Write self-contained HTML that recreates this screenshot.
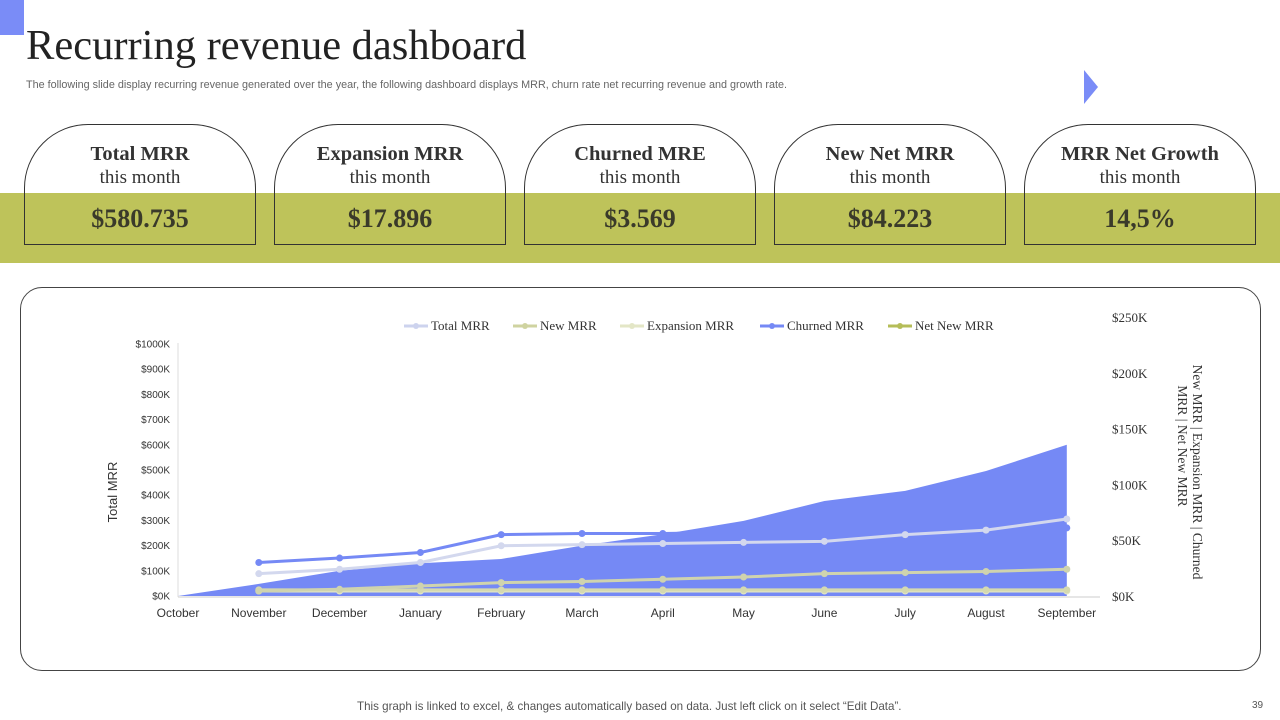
<!DOCTYPE html>
<html><head><meta charset="utf-8"><style>
body{margin:0;width:1280px;height:720px;position:relative;background:#fff;font-family:"Liberation Sans",sans-serif;overflow:hidden}
.abs{position:absolute}
.card{position:absolute;top:124px;width:230px;height:119px;border:1px solid #333;border-radius:64px 64px 0 0;text-align:center;font-family:"Liberation Serif",serif;color:#333}
.card .t{font-weight:bold;font-size:20.5px;margin-top:17px;line-height:24px}
.card .s{font-size:19px;line-height:24px}
.card .v{font-weight:bold;font-size:26px;margin-top:14px;color:#3a3a2a}
</style></head><body>
<div class="abs" style="left:0;top:0;width:24px;height:35px;background:#7a8cf7"></div>
<div class="abs" style="left:26px;top:21px;font-family:'Liberation Serif',serif;font-size:42.5px;color:#222">Recurring revenue dashboard</div>
<div class="abs" style="left:26px;top:79px;font-size:10.8px;color:#666;white-space:nowrap">The following slide display recurring revenue generated over the year, the following dashboard displays MRR, churn rate  net recurring revenue and growth rate.</div>
<svg class="abs" style="left:1082px;top:70px" width="18" height="34"><path d="M2 0 L16 17 L2 34 Z" fill="#7a8cf7"/></svg>
<div class="abs" style="left:0;top:193px;width:1280px;height:70px;background:#bec35a"></div>
<div class="card" style="left:24px"><div class="t">Total MRR</div><div class="s">this month</div><div class="v">$580.735</div></div>
<div class="card" style="left:274px"><div class="t">Expansion  MRR</div><div class="s">this month</div><div class="v">$17.896</div></div>
<div class="card" style="left:524px"><div class="t">Churned  MRE</div><div class="s">this month</div><div class="v">$3.569</div></div>
<div class="card" style="left:774px"><div class="t">New Net MRR</div><div class="s">this month</div><div class="v">$84.223</div></div>
<div class="card" style="left:1024px"><div class="t">MRR Net Growth</div><div class="s">this month</div><div class="v">14,5%</div></div>
<div class="abs" style="left:20px;top:287px;width:1239px;height:382px;border:1px solid #444;border-radius:22px"></div>
<svg id="chart" class="abs" style="left:0;top:0" width="1280" height="720"></svg>
<div class="abs" style="left:357px;top:700px;font-size:11.6px;color:#555;white-space:nowrap">This graph is linked to excel, &amp; changes automatically based on data. Just left click on it select “Edit Data”.</div>
<div class="abs" style="left:1252px;top:700px;font-size:10px;color:#555">39</div>
<script>
const months=["October","November","December","January","February","March","April","May","June","July","August","September"];
const totalArea=[0,48,100,130,147,200,245,298,377,417,496,600];
const totalMRR=[null,20,24,30,45,46,47,48,49,55,59,69];
const newMRR=[null,4.5,6,9,12,13,15,17,20,21,22,24];
const expansionMRR=[null,4.5,4.5,4.5,4.5,4.5,4.5,4.5,4.5,4.5,4.5,4.5];
const churnedMRR=[null,30,34,39,55,56,56,57,58,59,60,61];
const netNewMRR=[null,5.5,5.5,5.5,5.5,5.5,5.5,5.5,5.5,5.5,5.5,5.5];
const leftTicks=[0,100,200,300,400,500,600,700,800,900,1000];
const rightTicks=[0,50,100,150,200,250];
const NS="http://www.w3.org/2000/svg";
const svg=document.getElementById('chart');
const x=i=>178+i*80.8;
const yL=v=>596-v*0.252;
const yR=v=>596-v*1.116;
function mk(t,a){const e=document.createElementNS(NS,t);for(const k in a)e.setAttribute(k,a[k]);svg.appendChild(e);return e;}
let ax=mk('line',{x1:178,y1:343,x2:178,y2:597,stroke:'#ddd'});

let bx=mk('line',{x1:178,y1:597,x2:1100,y2:597,stroke:'#ccc'});

leftTicks.forEach(v=>{const t=mk('text',{x:170,y:yL(v)+3.5,'text-anchor':'end','font-size':'10','fill':'#333'});t.textContent='$'+v+'K';
});
rightTicks.forEach(v=>{const t=mk('text',{x:1112,y:yR(v)+5,'font-size':'13','fill':'#333','font-family':'Liberation Serif'});t.textContent='$'+v+'K';
});
months.forEach((m,i)=>{const t=mk('text',{x:x(i),y:617,'text-anchor':'middle','font-size':'12','fill':'#333'});t.textContent=m;
});
let yt=mk('text',{transform:'translate(117,492) rotate(-90)','text-anchor':'middle','font-size':'13','fill':'#333'});yt.textContent='Total MRR';

let r1=mk('text',{transform:'translate(1193,472) rotate(90)','text-anchor':'middle','font-size':'13.5','fill':'#333','font-family':'Liberation Serif'});r1.textContent='New MRR | Expansion MRR | Churned';

let r2=mk('text',{transform:'translate(1178,446) rotate(90)','text-anchor':'middle','font-size':'13.5','fill':'#333','font-family':'Liberation Serif'});r2.textContent='MRR | Net New MRR';

function series(arr,color,name){
 let pts=[];arr.forEach((v,i)=>{if(v!=null)pts.push([x(i),yR(v)]);});
 const p=mk('polyline',{points:pts.map(p=>p.join(',')).join(' '),fill:'none',stroke:color,'stroke-width':3});
 
 pts.forEach(q=>{const c=mk('circle',{cx:q[0],cy:q[1],r:3.5,fill:color});
 });
}
series(churnedMRR,'#7589f5','churned-mrr');
let d='M'+x(0)+' '+yL(0);totalArea.forEach((v,i)=>{d+=' L'+x(i)+' '+yL(v);});d+=' L'+x(totalArea.length-1)+' '+yL(0)+' Z';
let ar=mk('path',{d:d,fill:'#7589f5'});

series(expansionMRR,'#e3e6c6','expansion-mrr');
series(netNewMRR,'#d5d9b0','net-new-mrr');
series(newMRR,'#cfd3ae','new-mrr');
series(totalMRR,'#d3d8ee','total-mrr');
const legNames=["Total MRR","New MRR","Expansion MRR","Churned MRR","Net New MRR"];
const legColors=['#cdd3ee','#cfd3a0','#e3e6c6','#7589f5','#b5bd58'];
const legX=[404,513,620,760,888];
legNames.forEach((n,i)=>{
 const l=mk('line',{x1:legX[i],y1:326,x2:legX[i]+24,y2:326,stroke:legColors[i],'stroke-width':3});
 
 const c=mk('circle',{cx:legX[i]+12,cy:326,r:3,fill:legColors[i]});
 
 const t=mk('text',{x:legX[i]+27,y:330,'font-size':'13','fill':'#333','font-family':'Liberation Serif'});t.textContent=n;
 
});
</script>
</body></html>
